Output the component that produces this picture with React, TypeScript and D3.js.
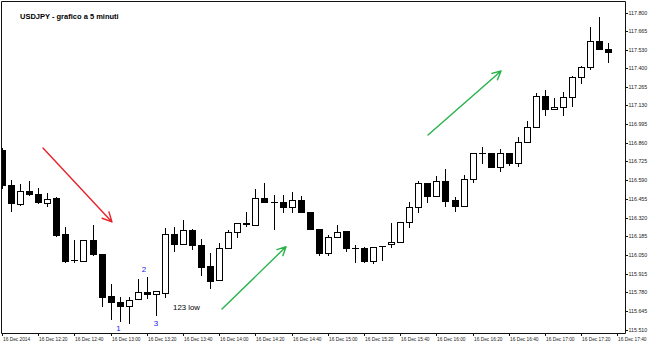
import React from 'react';
import * as d3 from 'd3';

const title = 'USDJPY - grafico a 5 minuti';

const opens = [116.808,116.555,116.418,116.514,116.490,116.427,116.459,116.201,116.011,116.008,116.158,116.054,115.753,115.708,115.683,115.729,115.782,115.765,115.777,116.199,116.127,116.230,116.122,115.970,115.869,116.098,116.218,116.271,116.266,116.459,116.430,116.434,116.394,116.447,116.362,116.235,116.062,116.177,116.223,116.102,116.098,116.008,116.114,116.127,116.143,116.286,116.394,116.572,116.476,116.584,116.447,116.406,116.596,116.784,116.784,116.687,116.784,116.712,116.868,116.976,117.198,117.102,117.117,117.189,117.333,117.406,117.596,117.538];
const highs = [116.822,116.591,116.562,116.584,116.536,116.499,116.471,116.252,116.158,116.158,116.264,116.057,115.840,115.744,115.748,115.876,115.893,115.789,116.247,116.249,116.302,116.235,116.163,116.062,116.138,116.230,116.280,116.358,116.524,116.572,116.483,116.483,116.502,116.476,116.362,116.235,116.194,116.266,116.223,116.122,116.109,116.109,116.117,116.283,116.286,116.430,116.584,116.572,116.620,116.671,116.466,116.627,116.784,116.827,116.784,116.813,116.784,116.900,117.020,117.218,117.242,117.186,117.229,117.343,117.415,117.699,117.767,117.579];
const lows = [116.533,116.367,116.411,116.483,116.423,116.403,116.187,115.997,116.001,116.006,116.049,115.681,115.587,115.572,115.558,115.729,115.736,115.616,115.748,116.080,116.127,116.091,115.905,115.809,115.865,116.098,116.177,116.261,116.266,116.430,116.235,116.358,116.358,116.362,116.235,116.049,116.049,116.177,116.080,116.001,115.999,115.994,116.013,116.109,116.143,116.249,116.358,116.430,116.476,116.403,116.369,116.406,116.579,116.716,116.687,116.658,116.700,116.695,116.868,116.976,117.061,117.102,117.061,117.126,117.294,117.391,117.538,117.446];
const closes = [116.555,116.425,116.514,116.490,116.430,116.452,116.194,116.008,116.013,116.158,116.057,115.748,115.708,115.683,115.724,115.780,115.765,115.789,116.199,116.127,116.230,116.122,115.960,115.864,116.098,116.218,116.278,116.278,116.459,116.430,116.430,116.398,116.447,116.362,116.235,116.066,116.177,116.213,116.102,116.102,116.008,116.109,116.117,116.143,116.286,116.394,116.572,116.478,116.584,116.442,116.406,116.596,116.784,116.784,116.687,116.784,116.712,116.868,116.976,117.198,117.102,117.117,117.189,117.333,117.406,117.596,117.538,117.518];

const timeLabels = ['16 Dec 2014','16 Dec 12:20','16 Dec 12:40','16 Dec 13:00','16 Dec 13:20','16 Dec 13:40','16 Dec 14:00','16 Dec 14:20','16 Dec 14:40','16 Dec 15:00','16 Dec 15:20','16 Dec 15:40','16 Dec 16:00','16 Dec 16:20','16 Dec 16:40','16 Dec 17:00','16 Dec 17:20','16 Dec 17:40'];
const barsPerLabel = 4;

const priceLabels = ['117.800','117.665','117.530','117.400','117.265','117.130','116.995','116.860','116.725','116.590','116.455','116.320','116.185','116.050','115.915','115.780','115.645','115.510'];

const arrowFrom = [[4.53,116.822],[24.31,115.659],[47.07,116.916]];
const arrowTo = [[12.15,116.288],[31.38,116.109],[55.14,117.379]];
const arrowColors = ['#e8232b','#26b34a','#26b34a'];

const pointTexts = ['1','2','3'];
const pointBars = [12.87,15.7,17.02];
const pointPrices = [115.500,115.923,115.535];
const noteText = '123 low';
const noteBar = 18.9;
const notePrice = 115.652;

const W = 650, H = 343;
const plotRight = 625.5, plotBottom = 333.5;

export default function App() {
  const x = d3.scaleLinear().domain([0, 67]).range([2, 608.4]);
  const y = d3.scaleLinear().domain([115.51, 117.8]).range([329.6, 12.7]);
  const font = '"Liberation Sans", Arial, sans-serif';

  const candles = opens.map((o, i) => {
    const cx = Math.round(x(i));
    const h = highs[i], l = lows[i], c = closes[i];
    const yH = Math.round(y(h)), yL = Math.round(y(l));
    const yO = Math.round(y(o)), yC = Math.round(y(c));
    const top = Math.min(yO, yC), bot = Math.max(yO, yC);
    const bull = c >= o;
    let body;
    if (bot - top < 1) {
      body = <line x1={cx - 3} x2={cx + 4} y1={top + 0.5} y2={top + 0.5} stroke="#000" strokeWidth={1} />;
    } else if (bull) {
      body = <rect x={cx - 2.5} y={top + 0.5} width={6} height={bot - top} fill="#fff" stroke="#000" strokeWidth={1} />;
    } else {
      body = <rect x={cx - 3} y={top} width={7} height={bot - top + 1} fill="#000" />;
    }
    return (
      <g key={i}>
        <line x1={cx + 0.5} x2={cx + 0.5} y1={yH} y2={yL + 1} stroke="#000" strokeWidth={1} />
        {body}
      </g>
    );
  });

  const arrows = arrowFrom.map((f, i) => {
    const x1 = x(f[0]), y1 = y(f[1]);
    const x2 = x(arrowTo[i][0]), y2 = y(arrowTo[i][1]);
    const a = Math.atan2(y2 - y1, x2 - x1);
    const L = i === 0 ? 10.5 : 9.5;
    const s = 0.46;
    const ax1 = x2 + L * Math.cos(a + Math.PI - s), ay1 = y2 + L * Math.sin(a + Math.PI - s);
    const ax2 = x2 + L * Math.cos(a + Math.PI + s), ay2 = y2 + L * Math.sin(a + Math.PI + s);
    const d = `M${x1},${y1}L${x2},${y2}M${ax1},${ay1}L${x2},${y2}L${ax2},${ay2}`;
    return <path key={i} d={d} fill="none" stroke={arrowColors[i]} strokeWidth={1.4} strokeLinecap="round" strokeLinejoin="round" />;
  });

  return (
    <svg width={W} height={H} style={{ position: 'absolute', left: 0, top: 0, background: '#fff' }}>
      <defs>
        <clipPath id="plot">
          <rect x={2} y={2} width={plotRight - 2.5} height={plotBottom - 2.5} />
        </clipPath>
      </defs>
      <rect x={0} y={0} width={W} height={H} fill="#fff" />
      <g clipPath="url(#plot)">{candles}</g>
      <path d={`M1.5,${plotBottom}V1.5H${plotRight}V${plotBottom}H1.5`} fill="none" stroke="#111" strokeWidth={1} />
      <text x={20} y={19.3} fontFamily={font} fontSize={7.5} fontWeight="bold" fill="#000">{title}</text>
      {arrows}
      {pointTexts.map((t, i) => (
        <text key={t} x={x(pointBars[i])} y={y(pointPrices[i])} textAnchor="middle" fontFamily={font} fontSize={8} fill="#2020f0">{t}</text>
      ))}
      <text x={x(noteBar)} y={y(notePrice)} fontFamily={font} fontSize={7.8} fill="#000">{noteText}</text>
      {priceLabels.map((p, i) => {
        const yy = Math.round(y(+p)) + 0.5;
        return (
          <g key={p}>
            <line x1={plotRight} x2={plotRight + 2.5} y1={yy} y2={yy} stroke="#111" strokeWidth={1} />
            <text x={628.5} y={Math.min(yy, 330)} dy="0.35em" fontFamily={font} fontSize={5.3} fill="#222">{p}</text>
          </g>
        );
      })}
      {timeLabels.map((t, i) => {
        const xx = Math.round(x(i * barsPerLabel)) + 0.5;
        return (
          <g key={t}>
            <line x1={xx} x2={xx} y1={plotBottom} y2={plotBottom + 2.5} stroke="#111" strokeWidth={1} />
            <text x={xx + 0.5} y={340.5} fontFamily={font} fontSize={4.8} fill="#222">{t}</text>
          </g>
        );
      })}
    </svg>
  );
}
